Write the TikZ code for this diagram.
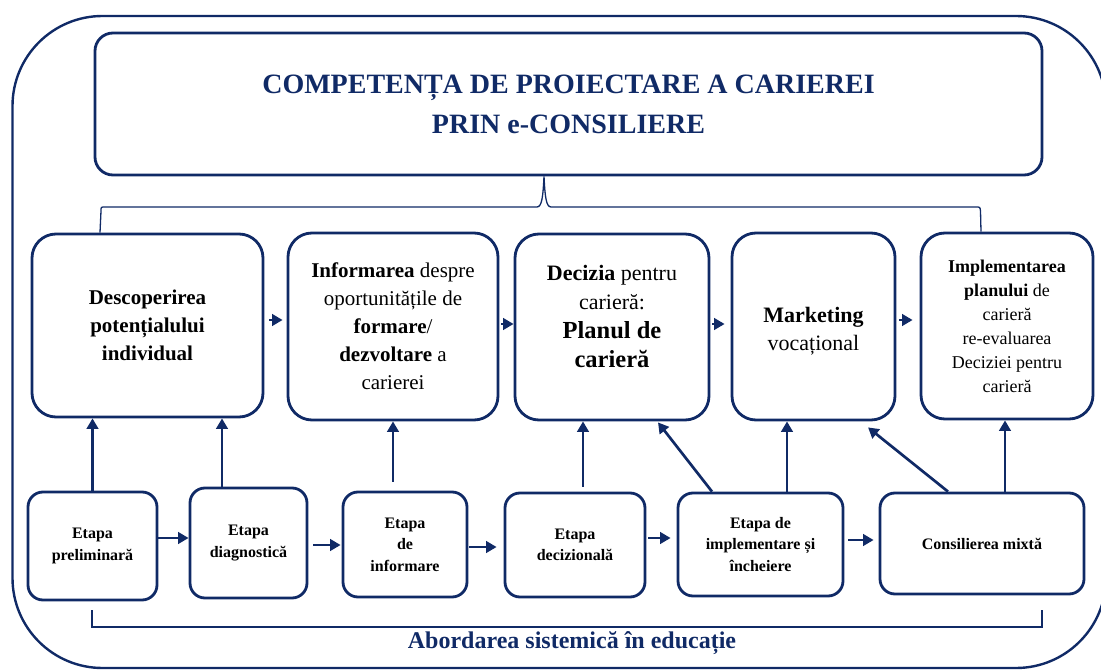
\documentclass[tikz,border=0pt]{standalone}
\usepackage{fontspec}
\setmainfont{Liberation Serif}
\usetikzlibrary{arrows.meta}
\definecolor{navy}{RGB}{16,42,102}
\begin{document}
\begin{tikzpicture}[x=1pt,y=-1pt,
  tbox/.style={draw=navy,line width=2.8pt,rounded corners=18pt,inner sep=0pt,align=center,text=navy,font=\fontsize{28}{40}\selectfont\bfseries},
  mbox/.style={draw=navy,line width=2.8pt,rounded corners=24pt,inner sep=0pt,align=center,font=\fontsize{21}{28}\selectfont},
  ebox/.style={draw=navy,line width=2.8pt,rounded corners=15pt,inner sep=0pt,align=center,font=\fontsize{16}{21.5}\selectfont\bfseries},
  arr/.style={draw=navy,line width=2.7pt,-{Triangle[length=10.5pt,width=11.5pt]}},
  thinln/.style={draw=navy,line width=1.3pt}]
\useasboundingbox (0,0) rectangle (1101,671);
\begin{scope}
\clip (0,0) rectangle (1101,671);
\draw[navy,line width=2.4pt,rounded corners=90pt] (12.5,16) rectangle (1106,668);
\end{scope}
% title
\node[tbox,minimum width=947pt,minimum height=142pt] (title) at (568.5,104)
  {COMPETENȚA DE PROIECTARE A CARIEREI\\PRIN e-CONSILIERE};
% middle row
\node[mbox,minimum width=231pt,minimum height=183pt] (b1) at (147.5,325.5)
  {\textbf{Descoperirea}\\\textbf{potențialului}\\\textbf{individual}};
\node[mbox,minimum width=210pt,minimum height=187pt] (b2) at (393,326.5)
  {\textbf{Informarea} despre\\oportunitățile de\\\textbf{formare}/\\\textbf{dezvoltare} a\\carierei};
\node[mbox,minimum width=194pt,minimum height=186pt,font=\fontsize{22}{29}\selectfont] (b3) at (612,327)
  {\textbf{Decizia} pentru\\carieră:\\{\fontsize{24.5}{29}\selectfont\textbf{Planul de}}\\{\fontsize{24.5}{29}\selectfont\textbf{carieră}\rule[-21pt]{0pt}{0pt}}};
\node[mbox,minimum width=163pt,minimum height=187pt,font=\fontsize{22}{28}\selectfont] (b4) at (813.5,326.5)
  {\rule{0pt}{25pt}\textbf{Marketing}\\vocațional};
\node[mbox,minimum width=172pt,minimum height=186pt,font=\fontsize{18}{24}\selectfont] (b5) at (1007,326)
  {\textbf{Implementarea}\\\textbf{planului} de\\carieră\\re-evaluarea\\Deciziei pentru\\carieră};
% bottom row
\node[ebox,minimum width=129pt,minimum height=108pt] (e1) at (92.5,546) {Etapa\\preliminară};
\node[ebox,minimum width=117pt,minimum height=110pt] (e2) at (248.5,543) {Etapa\\diagnostică};
\node[ebox,minimum width=124pt,minimum height=105pt] (e3) at (405,544.5) {Etapa\\de\\informare};
\node[ebox,minimum width=140pt,minimum height=104pt] (e4) at (575,545) {Etapa\\decizională};
\node[ebox,minimum width=165pt,minimum height=103pt] (e5) at (760.5,544.5) {Etapa de\\implementare și\\încheiere};
\node[ebox,minimum width=204pt,minimum height=101pt] (e6) at (982,543.5) {Consilierea mixtă};
% brace from title
\coordinate (bl) at ([xshift=-47.5pt]b1.north);
\coordinate (br) at ([xshift=-26pt]b5.north);
\coordinate (bt) at ([xshift=-24.5pt]title.south);
\draw[thinln] (bl) -- (101,211) .. controls (101,207) .. (105,207) -- (537,207)
  .. controls (542,207) and (543,196) .. (bt)
  .. controls (545,196) and (546,207) .. (551,207) -- (976,207)
  .. controls (980,207) .. (980.5,211) -- (br);
% middle arrows
\draw[arr,shorten <=5pt,shorten >=4pt] ([yshift=5.5pt]b1.east) -- ([yshift=5.5pt]b1.east -| b2.west);
\draw[arr,shorten <=2pt] ([yshift=2.5pt]b2.east) -- ([yshift=2.5pt]b2.east -| b3.west);
\draw[arr,shorten <=2pt,shorten >=6pt] ([yshift=3pt]b3.east) -- ([yshift=3pt]b3.east -| b4.west);
\draw[arr,shorten <=3pt,shorten >=7pt] ([yshift=6.5pt]b4.east) -- ([yshift=6.5pt]b4.east -| b5.west);
% bottom arrows
\draw[arr] ([yshift=8pt]e1.east) -- ([yshift=8pt]e1.east -| e2.west);
\draw[arr,shorten <=5pt,shorten >=1pt] ([yshift=-2pt]e2.east) -- ([yshift=-2pt]e2.east -| e3.west);
\draw[arr,shorten <=1pt,shorten >=7pt] ([yshift=-2.5pt]e3.east) -- ([yshift=-2.5pt]e3.east -| e4.west);
\draw[arr,shorten <=2pt,shorten >=6pt] ([yshift=7pt]e4.east) -- ([yshift=7pt]e4.east -| e5.west);
\draw[arr,shorten <=4pt,shorten >=5pt] ([yshift=4.5pt]e5.east) -- ([yshift=4.5pt]e5.east -| e6.west);
% vertical arrows
\draw[arr] (e1.north) -- (e1.north |- b1.south);
\draw[arr] ([xshift=-26.5pt]e2.north) -- ([xshift=-26.5pt]e2.north |- b1.south);
\draw[arr] ([xshift=-12pt,yshift=9pt]e3.north) -- ([xshift=-12pt]e3.north |- b2.south);
\draw[arr] ([xshift=8pt,yshift=5pt]e4.north) -- ([xshift=8pt]e4.north |- b3.south);
\draw[arr] ([xshift=26.5pt]e5.north) -- ([xshift=26.5pt]e5.north |- b4.south);
\draw[arr] ([xshift=23pt]e6.north) -- ([xshift=23pt]e6.north |- b5.south);
\draw[arr] ([xshift=-48.5pt]e5.north) -- ([xshift=46pt,yshift=-1pt]b3.south);
\draw[arr] ([xshift=-34pt]e6.north) -- ([xshift=54.5pt,yshift=-6pt]b4.south);
% bottom bracket
\draw[thinln] (92,610) -- (92,627) -- (1042,627) -- (1042,610);
\node[text=navy,font=\fontsize{24}{28}\selectfont\bfseries] (abs) at (572,643) {Abordarea sistemică în educație};
\end{tikzpicture}
\end{document}
